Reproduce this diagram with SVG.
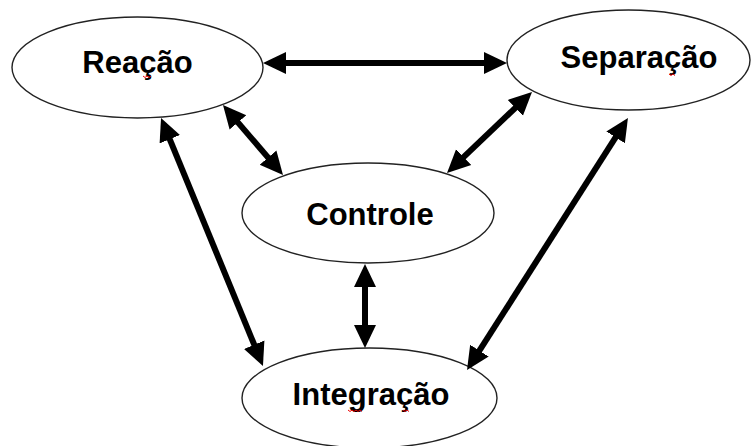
<svg xmlns="http://www.w3.org/2000/svg" width="752" height="446" viewBox="0 0 752 446">
<style>
.node ellipse{fill:#fff;stroke:#222;stroke-width:1.4}
.node text{font-family:"Liberation Sans",Arial,sans-serif;font-weight:bold;font-size:31px;fill:#000;text-anchor:middle}
.conn line{stroke:#000;stroke-width:6;marker-start:url(#ah);marker-end:url(#ah)}
.sq{fill:none;stroke:#e00;stroke-width:1}
</style>
<defs>
<marker id="ah" viewBox="0 0 24 24" markerWidth="24" markerHeight="24" refX="11" refY="12" markerUnits="userSpaceOnUse" orient="auto-start-reverse">
<path d="M0,1 L23,12 L0,23 Z" fill="#000"/>
</marker>
</defs>
<rect width="752" height="446" fill="#fff"/>
<g id="reacao" class="node">
<ellipse cx="137.5" cy="67.5" rx="125.5" ry="50.5"/>
<text x="137.5" y="73">Reação</text>
<path class="sq" d="M143,76 l2,1.5 l2,-1.5 l2,1.5 l2,-1.5"/>
</g>
<g id="separacao" class="node">
<ellipse cx="628.5" cy="60" rx="121.5" ry="50"/>
<text x="639" y="68">Separação</text>
<path class="sq" d="M669,74 l2,1.5 l2,-1.5 l2,1.5"/>
</g>
<g id="controle" class="node">
<ellipse cx="368" cy="213" rx="126" ry="50"/>
<text x="370" y="225">Controle</text>
</g>
<g id="integracao" class="node">
<ellipse cx="369.5" cy="398" rx="127.5" ry="50"/>
<text x="371" y="405">Integração</text>
<path class="sq" d="M348,410 l2,1.5 l2,-1.5 l2,1.5 l2,-1.5 l2,1.5 l2,-1.5 l2,1.5"/>
<path class="sq" d="M403,410 l2,1.5 l2,-1.5 l2,1.5"/>
</g>
<g id="connectors" class="conn">
<line x1="275" y1="63" x2="495" y2="63"/>
<line x1="230.8" y1="114.1" x2="275.2" y2="165.9"/>
<line x1="165.6" y1="129.1" x2="258.4" y2="354.9"/>
<line x1="523.3" y1="100.3" x2="455.7" y2="164.7"/>
<line x1="621.5" y1="128.1" x2="473.5" y2="359.9"/>
<line x1="365" y1="276" x2="365" y2="336"/>
</g>
</svg>
